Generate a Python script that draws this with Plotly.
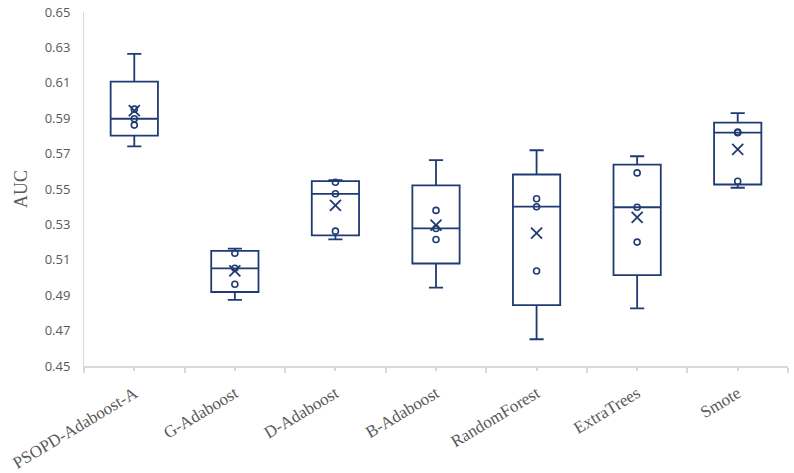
import plotly.graph_objects as go
import numpy as np

categories = ["PSOPD-Adaboost-A", "G-Adaboost", "D-Adaboost", "B-Adaboost",
              "RandomForest", "ExtraTrees", "Smote"]

psopd_adaboost_a = [0.5741, 0.5861, 0.5897, 0.5951, 0.6263]
g_adaboost = [0.4874, 0.4962, 0.5052, 0.5137, 0.5163]
d_adaboost = [0.5215, 0.5262, 0.5473, 0.5538, 0.5550]
b_adaboost = [0.4943, 0.5215, 0.5277, 0.5379, 0.5663]
random_forest = [0.4651, 0.5037, 0.5400, 0.5445, 0.5719]
extra_trees = [0.4826, 0.5200, 0.5397, 0.5591, 0.5685]
smote = [0.5507, 0.5544, 0.5818, 0.5822, 0.5929]

series = [psopd_adaboost_a, g_adaboost, d_adaboost, b_adaboost,
          random_forest, extra_trees, smote]

y_ticks = [0.45, 0.47, 0.49, 0.51, 0.53, 0.55, 0.57, 0.59, 0.61, 0.63, 0.65]

NAVY = "#1F3B73"
GRAY_TXT = "#595959"
AXIS_GRAY = "#D9D9D9"

fig = go.Figure()

for i, vals in enumerate(series):
    fig.add_trace(go.Box(
        x=[i] * len(vals), y=vals,
        boxpoints=False, quartilemethod="exclusive",
        width=0.47, whiskerwidth=0.3,
        line=dict(color=NAVY, width=1.8),
        fillcolor="white", showlegend=False, name=categories[i],
    ))

for i, vals in enumerate(series):
    s = sorted(vals)
    inner = s[1:-1]
    fig.add_trace(go.Scatter(
        x=[i] * len(inner), y=inner, mode="markers",
        marker=dict(symbol="circle-open", size=6, color=NAVY,
                    line=dict(color=NAVY, width=1.6)),
        showlegend=False, hoverinfo="skip",
    ))
    fig.add_trace(go.Scatter(
        x=[i], y=[float(np.mean(vals))], mode="markers",
        marker=dict(symbol="x-thin-open", size=11, color=NAVY,
                    line=dict(color=NAVY, width=1.8)),
        showlegend=False, hoverinfo="skip",
    ))

fig.update_layout(
    width=794, height=473,
    margin=dict(l=84, r=6, t=12, b=107, autoexpand=False),
    paper_bgcolor="white", plot_bgcolor="white",
    xaxis=dict(
        type="linear", range=[-0.5, len(categories) - 0.5],
        tickmode="array", tickvals=list(range(len(categories))),
        ticktext=categories, tickangle=-31, automargin=False,
        ticklabeloverflow="allow",
        tickfont=dict(family="Liberation Serif", size=17, color=GRAY_TXT),
        ticks="outside", ticklen=3, tickcolor=AXIS_GRAY, tickwidth=1.5,
        ticklabelstandoff=6,
        minor=dict(tickmode="array",
                   tickvals=[k - 0.5 for k in range(len(categories) + 1)],
                   ticks="outside", ticklen=5, tickcolor=AXIS_GRAY, tickwidth=1.5,
                   showgrid=False),
        showline=True, linecolor=AXIS_GRAY, linewidth=2,
        showgrid=False, zeroline=False,
    ),
    yaxis=dict(
        range=[0.45, 0.65], tickmode="array", tickvals=y_ticks,
        ticktext=[f"{v:.2f}" for v in y_ticks], automargin=False,
        tickfont=dict(family="Open Sans", size=13, color=GRAY_TXT),
        ticks="", ticklabelstandoff=10,
        showline=True, linecolor=AXIS_GRAY, linewidth=1,
        showgrid=False, zeroline=False,
        title=dict(text="AUC", standoff=12,
                   font=dict(family="Liberation Serif", size=18, color=GRAY_TXT)),
    ),
)

fig.write_html(
    "out.html",
    config={"displayModeBar": False},
    post_script="document.body.style.margin='0';document.body.style.overflow='hidden';",
)
